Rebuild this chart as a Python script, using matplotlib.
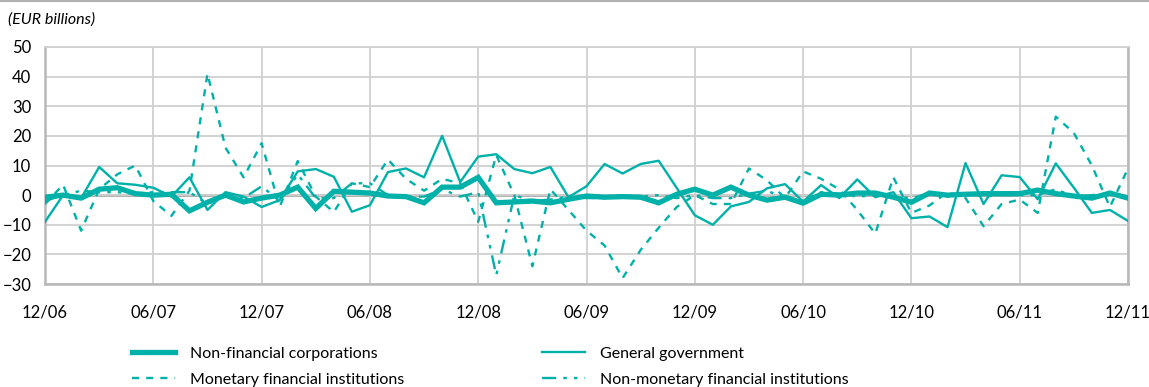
import numpy as np
import matplotlib
matplotlib.use('Agg')
import matplotlib.pyplot as plt

plt.rcParams['font.family'] = ['Lato', 'DejaVu Sans']

# monthly data, 12/06 .. 12/11 (EUR billions)
tick_labels = ['12/06', '06/07', '12/07', '06/08', '12/08', '06/09',
               '12/09', '06/10', '12/10', '06/11', '12/11']

non_fin_corp = [-0.7, 0, -1, 2, 2.5, 0.5, 0, 0.3, -5.3, -2.4, 0, -2.3, -1,
                0, 2.7, -4.5, 1.3, 1, 0.7, -0.3, -0.5, -2.6, 2.7, 2.7, 6,
                -2.6, -2.3, -2, -2.6, -1.4, -0.3, -0.7, -0.5, -0.7, -2.6, 0.3, 2,
                0, 2.7, 0, -1.7, -0.7, -2.7, 0.3, 0, 0.7, 0.7, -0.7, -2.4,
                0.7, 0, 0.3, 0.5, 0.5, 0.5, 1.7, 0.5, -0.3, -1, 0.7, -1]

general_gov = [-9, 0, -1, 9.5, 4, 3.5, 2.5, -0.5, 6, -5, 1, -0.5, -4,
               -1.7, 8, 8.8, 6.2, -5.6, -3.4, 7.8, 9, 6, 20, 4.4, 13,
               13.8, 8.8, 7.4, 9.5, -0.7, 3, 10.5, 7.3, 10.5, 11.6, 2.4, -6.8,
               -10, -3.8, -2.3, 2.3, 3.7, -2.2, 3.4, -1, 5.3, -0.7, 1, -7.8,
               -7.2, -10.8, 10.8, -3, 6.7, 6.1, -1.4, 10.7, 2.5, -6, -5, -8.7]

mfi = [-3, 3.5, -12, 2, 7, 10, -2, -7, 1.5, 41, 16, 6, 17.5,
       -4, 11.5, -0.5, -5.7, 4, 2.7, 12, 5.5, 1.5, 5.5, 4, -9,
       13.5, 0, -24, 2, -5, -12, -17, -28, -18.5, -11, -4, 0,
       -3, -3, 9, 5, -1, 8, 5.5, 2, -5, -13, 6, -6,
       -3.5, 1, -1, -10.5, -3, -1.5, -6, 26.5, 21, 10, -4, 9]

non_mfi = [-2, 0, 1.5, 1, 1, 0.5, 1, 1, 1, -3, 0, -1, 3,
           -2, 7, -1, -1, 4, 4, 0, -0.5, -0.5, 2, -0.5, 1,
           -27, 0, -2, -1.5, -0.5, -1, -1, -0.5, -0.5, 0, -1, 0,
           -1, -1, 0.5, 1.5, -1, -2, 1, 0.5, -0.5, 0, -0.5, -1,
           0.5, -0.5, 0.5, -0.5, 0, 0, 0, 2, -0.5, 0, 0.5, -1]

teal = '#00b1a9'
x = np.arange(len(non_fin_corp))

fig = plt.figure(figsize=(11.49, 3.87), dpi=100)
ax = fig.add_axes([0.0392, 0.2661, 0.9425, 0.6125])

ax.axhline(0, color='#a8a8a8', lw=2, zorder=1)
l_gg, = ax.plot(x, general_gov, color=teal, lw=1.7, zorder=3)
l_mfi, = ax.plot(x, mfi, color=teal, lw=1.7, dashes=(3, 3), zorder=3)
l_nmfi, = ax.plot(x, non_mfi, color=teal, lw=1.7, dashes=(6, 3, 1.5, 3, 1.5, 3), zorder=3)
l_nfc, = ax.plot(x, non_fin_corp, color=teal, lw=3.8, zorder=4, solid_joinstyle='miter')

ax.set_xlim(0, len(x) - 1)
ax.set_ylim(-30, 50)
ax.set_yticks(range(-30, 51, 10))
ax.set_xticks(range(0, len(x), 6))
ax.set_xticklabels(tick_labels)
ax.grid(True, color='#d0d0d0', lw=1.3, zorder=0)
ax.tick_params(length=0, labelsize=12, colors='black')
ax.tick_params(axis='x', pad=15)
ax.tick_params(axis='y', pad=10)
for s in ax.spines.values():
    s.set_color('#b8b8b8')
    s.set_linewidth(1.8)
ax.spines['top'].set_color('#d0d0d0')
ax.spines['top'].set_linewidth(1.3)

fig.text(0.007, 0.938, '(EUR billions)', fontsize=11.5, style='italic')
fig.add_artist(plt.Line2D([0, 1], [0.998, 0.998], color='#b0b0b0', lw=1.5))

fig.legend([l_nfc, l_mfi, l_gg, l_nmfi],
           ['Non-financial corporations', 'Monetary financial institutions',
            'General government', 'Non-monetary financial institutions'],
           loc='upper left', bbox_to_anchor=(0.1149, 0.104), ncol=2, frameon=False,
           fontsize=11.5, handlelength=2.7, handletextpad=0.95, columnspacing=8.6,
           labelspacing=0.72, borderaxespad=0, borderpad=0)

fig.savefig('out.png', dpi=100)
